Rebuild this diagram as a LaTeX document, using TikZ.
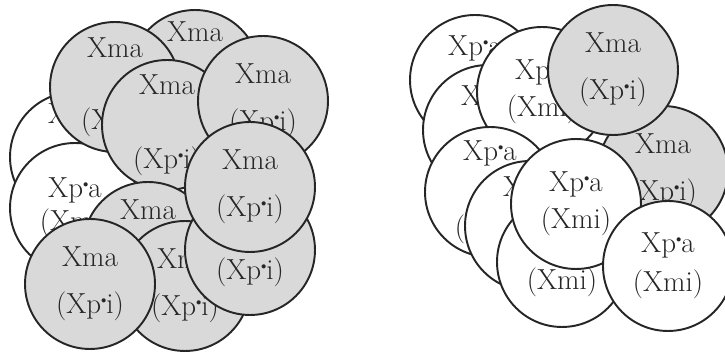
\documentclass[tikz,border=0pt]{standalone}
\usepackage{tikz}
\usetikzlibrary{positioning}
\usepackage{xcolor}

\newcommand{\pdot}{\raisebox{0.8ex}{\scalebox{0.35}{$\bullet$}}}

\begin{document}
\begin{tikzpicture}[
    x=0.02cm, y=-0.02cm,
    blob/.style={circle, draw=black!85, line width=1.1pt, minimum size=2.6cm, inner sep=0pt,
                 align=center, text=black!85, font=\fontsize{16.5}{27}\selectfont},
    major/.style={blob, fill=black!15},
    minor/.style={blob, fill=white}
]
\useasboundingbox (0,0) rectangle (725,354);

% left group
\node[minor] (paL1) at (75,157) {Xp\pdot a\\[18pt](Xmi)};
\node[minor] (paL2) at (75,208) {Xp\pdot a\\[-8pt](Xmi)};
\node[major] (maL1) at (195,75) {Xma\\[18pt](Xp\pdot i)};
\node[major] (maL2) at (115,87) {Xma\\[14pt](Xp\pdot i)};
\node[major] (maL3) at (167,125) {Xma\\[15pt](Xp\pdot i)};
\node[major] (maL4) at (263,101) {Xma\\(Xp\pdot i)};
\node[major] (maL5) at (148,247) {Xma\\[12pt](Xp\pdot i)};
\node[major] (maL6) at (185,286) {Xma\\(Xp\pdot i)};
\node[major] (maL7) at (90,284) {Xma\\(Xp\pdot i)};
\node[major] (maL8) at (250,250) {Xma\\(Xp\pdot i)};
\node[major] (maL9) at (250,187) {Xma\\(Xp\pdot i)};

% right group
\node[minor] (paR1) at (475,80) {Xp\pdot a\\[8pt](Xmi)};
\node[minor] (paR2) at (488,130) {Xp\pdot a\\[8pt](Xmi)};
\node[minor] (paR3) at (542,92) {Xp\pdot a\\[-6pt](Xmi)};
\node[minor] (paR4) at (490,192) {Xp\pdot a\\[16pt](Xmi)};
\node[minor] (paR5) at (530,226) {Xp\pdot a\\[14pt](Xmi)};
\node[major] (maR1) at (663,171) {Xma\\(Xp\pdot i)};
\node[major] (maR2) at (613,70) {Xma\\(Xp\pdot i)};
\node[minor] (paR6) at (562,262) {Xp\pdot a\\[-3pt](Xmi)};
\node[minor] (paR7) at (576,204) {Xp\pdot a\\[-6pt](Xmi)};
\node[minor] (paR8) at (668,266) {Xp\pdot a\\[-5pt](Xmi)};
\end{tikzpicture}
\end{document}
